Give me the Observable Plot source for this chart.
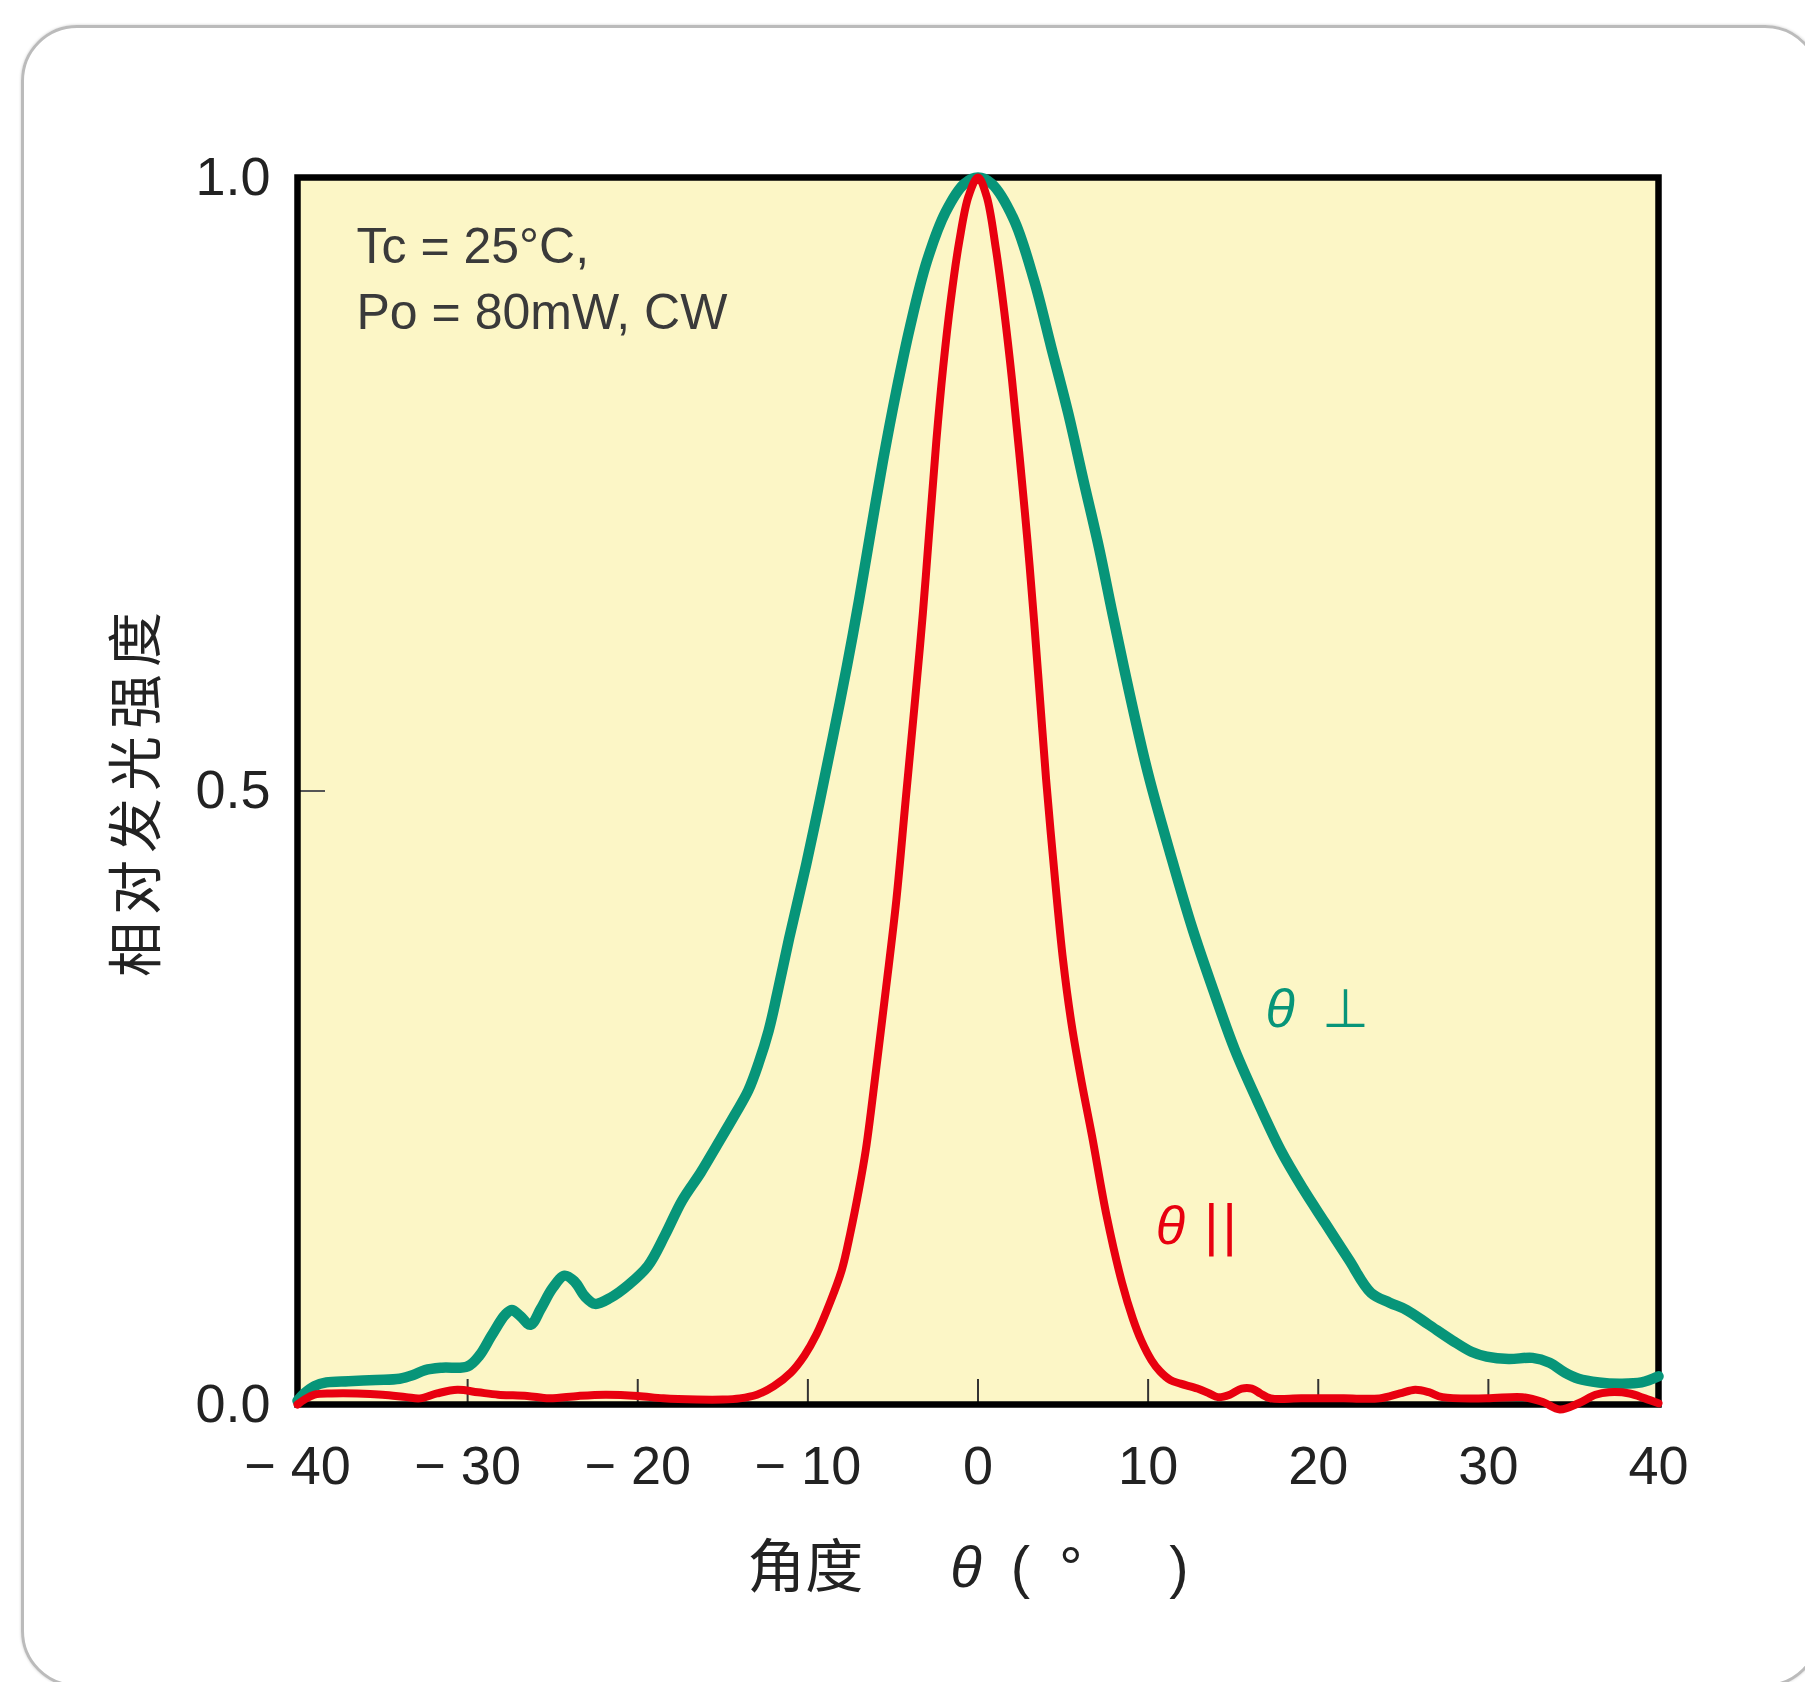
<!DOCTYPE html>
<html>
<head>
<meta charset="utf-8">
<script src="https://cdn.jsdelivr.net/npm/d3@7"></script>
<script src="https://cdn.jsdelivr.net/npm/@observablehq/plot@0.6"></script>
<style>
html, body { margin: 0; padding: 0; background: #ffffff; overflow: hidden; }
#wrap { position: relative; width: 1805px; height: 1682px; }
#chart { position: absolute; left: 0; top: 0; }
#card {
  position: absolute; left: 21px; top: 25px; width: 1800px; height: 1662px;
  border: 3px solid #bbbbbb; border-radius: 56px; box-sizing: border-box;
  box-shadow: 0 0 3px rgba(0,0,0,0.2); pointer-events: none;
}
</style>
</head>
<body>
<div id="wrap"><div id="chart"></div><div id="card"></div></div>
<script>
// ---------- data ----------
const xTicks = [-40, -30, -20, -10, 0, 10, 20, 30, 40];
const innerXTicks = [-30, -20, -10, 0, 10, 20, 30];
const yTicks = [0, 0.5, 1.0];
const innerYTicks = [0.5];

const yTitle = "相对发光强度";
const xTitle = "角度\u3000\u2002θ\u2002(\u2002°\u3000\u2002)";
const conditionText = "Tc = 25°C,\nPo = 80mW, CW";
const perpName = "θ\u2002⊥";
const paraName = "θ ||";

// θ⊥ (green)
const perpAngle = [-40, -39.6, -39.0, -38.3, -37.0, -35.4, -34.0, -33.2, -32.5, -31.5, -30.0, -29.3, -28.6, -27.8, -27.4, -26.9, -26.3, -25.7, -25.0, -24.3, -23.7, -23.1, -22.5, -21.6, -20.5, -19.4, -18.4, -17.4, -16.3, -15.4, -14.3, -13.5, -12.9, -12.3, -11.8, -11.1, -10.1, -9.3, -8.5, -7.7, -7.0, -6.3, -5.6, -4.8, -4.0, -3.0, -1.9, -0.8, 0, 0.8, 2.1, 3.3, 4.3, 5.3, 6.2, 7.1, 7.9, 8.9, 10.0, 11.3, 12.6, 13.9, 15.1, 16.4, 17.8, 19.1, 20.4, 21.8, 23.1, 24.2, 25.2, 26.5, 27.9, 29.0, 29.9, 31.2, 32.6, 33.6, 34.5, 35.3, 36.5, 37.7, 39.0, 40.0];
const perpIntensity = [0.003, 0.009, 0.015, 0.018, 0.019, 0.020, 0.021, 0.024, 0.028, 0.030, 0.031, 0.040, 0.056, 0.073, 0.077, 0.072, 0.065, 0.078, 0.095, 0.105, 0.100, 0.088, 0.082, 0.087, 0.098, 0.113, 0.138, 0.166, 0.189, 0.210, 0.236, 0.256, 0.278, 0.305, 0.335, 0.380, 0.440, 0.492, 0.546, 0.602, 0.655, 0.712, 0.768, 0.826, 0.878, 0.932, 0.972, 0.995, 1.000, 0.995, 0.966, 0.916, 0.862, 0.808, 0.753, 0.699, 0.645, 0.580, 0.514, 0.449, 0.388, 0.335, 0.289, 0.248, 0.207, 0.176, 0.148, 0.118, 0.091, 0.083, 0.077, 0.065, 0.052, 0.043, 0.039, 0.037, 0.038, 0.034, 0.026, 0.021, 0.018, 0.017, 0.018, 0.023];

// θ∥ (red)
const paraAngle = [-40, -39.6, -39.0, -38.0, -36.5, -35.0, -33.6, -32.8, -31.8, -30.6, -29.4, -28.2, -26.5, -25.2, -23.5, -21.9, -20.0, -18.5, -16.5, -15.0, -14.0, -13.0, -12.0, -11.0, -10.2, -9.5, -8.7, -8.0, -7.5, -7.0, -6.6, -6.3, -5.9, -5.4, -4.8, -4.25, -3.7, -3.24, -2.83, -2.45, -2.05, -1.6, -1.1, -0.55, 0, 0.5, 1.05, 1.55, 2.0, 2.45, 2.9, 3.3, 3.65, 4.0, 4.5, 5.0, 5.5, 6.1, 6.7, 7.57, 8.47, 9.1, 9.6, 10.2, 10.7, 11.3, 11.9, 12.9, 13.6, 14.1, 14.8, 15.5, 16.1, 16.6, 17.2, 19.0, 21.5, 23.6, 24.8, 25.7, 26.5, 27.3, 29.9, 32.0, 33.2, 34.2, 35.3, 36.3, 37.1, 38.3, 39.2, 40.0];
const paraIntensity = [0.000, 0.004, 0.008, 0.009, 0.009, 0.008, 0.006, 0.005, 0.009, 0.012, 0.010, 0.008, 0.007, 0.005, 0.007, 0.008, 0.007, 0.005, 0.004, 0.004, 0.005, 0.008, 0.015, 0.026, 0.040, 0.057, 0.083, 0.110, 0.140, 0.175, 0.207, 0.238, 0.283, 0.340, 0.411, 0.493, 0.574, 0.645, 0.718, 0.785, 0.845, 0.900, 0.948, 0.985, 1.000, 0.985, 0.942, 0.890, 0.835, 0.772, 0.705, 0.638, 0.574, 0.510, 0.432, 0.362, 0.310, 0.262, 0.219, 0.153, 0.099, 0.070, 0.052, 0.036, 0.027, 0.020, 0.017, 0.013, 0.009, 0.006, 0.008, 0.013, 0.013, 0.009, 0.005, 0.005, 0.005, 0.005, 0.009, 0.012, 0.010, 0.006, 0.005, 0.006, 0.002, -0.004, 0.001, 0.008, 0.010, 0.009, 0.005, 0.001];

// ---------- tables ----------
const perp = perpAngle.map((a, i) => ({angle: a, value: perpIntensity[i]}));
const para = paraAngle.map((a, i) => ({angle: a, value: paraIntensity[i]}));

// ---------- style ----------
const GREEN = "#079579";
const RED = "#e8000f";
const YELLOW = "#fcf6c6";
const TEXT = "#222222";
const LATIN = "Liberation Sans, Arial, Helvetica, sans-serif";
const CJK = "Noto Sans CJK SC, sans-serif";

const W = 1805, H = 1682, mL = 297, mR = 147, mT = 177, mB = 278;
const fw = W - mL - mR, fh = H - mT - mB;

const fmtX = d => d < 0 ? "\u2212 " + Math.abs(d) : String(d);

const chart = Plot.plot({
  width: W, height: H,
  marginLeft: mL, marginRight: mR, marginTop: mT, marginBottom: mB,
  style: {background: "transparent", overflow: "visible"},
  x: {domain: [-40, 40]},
  y: {domain: [0, 1]},
  marks: [
    Plot.frame({fill: YELLOW, stroke: null}),
    Plot.tickX(innerXTicks, {x: d => d, insetTop: fh - 25, stroke: "#333", strokeWidth: 2}),
    Plot.tickY(innerYTicks, {y: d => d, insetRight: fw - 28, stroke: "#555", strokeWidth: 2}),
    Plot.frame({stroke: "#000", strokeWidth: 6.5}),
    Plot.line(perp, {x: "angle", y: "value", stroke: GREEN, strokeWidth: 10.5, curve: "catmull-rom", strokeLinejoin: "round", strokeLinecap: "round"}),
    Plot.line(para, {x: "angle", y: "value", stroke: RED, strokeWidth: 8, curve: "catmull-rom", strokeLinejoin: "round", strokeLinecap: "round"}),
    Plot.axisX(xTicks, {tickSize: 0, tickPadding: 41, tickFormat: fmtX, fontSize: 54, fontFamily: LATIN, fill: TEXT, label: null}),
    Plot.axisY(yTicks, {tickSize: 0, tickPadding: 27, tickFormat: d3.format(".1f"), fontSize: 54, fontFamily: LATIN, fill: TEXT, label: null}),
    Plot.text([yTitle], {text: d => d, frameAnchor: "left", rotate: -90, dx: -160, textAnchor: "middle", lineAnchor: "middle", fontSize: 55, fontFamily: CJK, fill: TEXT}),
    Plot.text([xTitle], {text: d => d, frameAnchor: "bottom", dx: -10, dy: 164, textAnchor: "middle", lineAnchor: "middle", fontSize: 58, fontFamily: LATIN + ", Noto Sans CJK SC", fill: TEXT}),
    Plot.text([conditionText], {text: d => d, frameAnchor: "top-left", dx: 59, dy: 97, textAnchor: "start", lineAnchor: "middle", lineHeight: 1.33, fontSize: 50, fontFamily: LATIN, fill: "#3a3a3a"}),
    Plot.text([perpName], {text: d => d, x: 16.9, y: 0.322, textAnchor: "start", lineAnchor: "middle", fontSize: 54, fontFamily: "DejaVu Sans, sans-serif", fill: GREEN}),
    Plot.text([paraName], {text: d => d, x: 10.45, y: 0.145, textAnchor: "start", lineAnchor: "middle", fontSize: 54, fontFamily: "DejaVu Sans, sans-serif", fill: RED})
  ]
});

document.getElementById("chart").appendChild(chart);

// italic θ and letter spacing touches
const NS = "http://www.w3.org/2000/svg";
chart.querySelectorAll("text").forEach(t => {
  if (t.textContent === yTitle) t.setAttribute("letter-spacing", "7");
  const spans = t.querySelectorAll("tspan");
  const targets = spans.length ? Array.from(spans) : [t];
  targets.forEach(el => {
    const s = el.textContent;
    if (!s.includes("θ")) return;
    while (el.firstChild) el.removeChild(el.firstChild);
    s.split(/(θ)/).forEach(part => {
      if (!part) return;
      const ts = document.createElementNS(NS, "tspan");
      ts.textContent = part;
      if (part === "θ") {
        ts.setAttribute("font-style", "italic");
        ts.setAttribute("font-family", "Liberation Sans, Arial, sans-serif");
      }
      el.appendChild(ts);
    });
  });
});
</script>
</body>
</html>
